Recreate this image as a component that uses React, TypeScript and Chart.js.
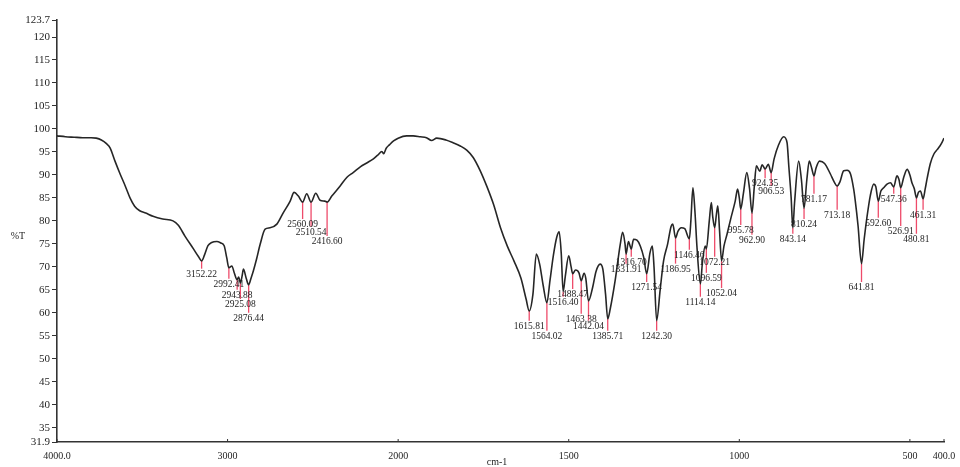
import React, { useEffect, useRef } from "react";
import { Chart, registerables, LinearScale } from "chart.js";

// ---- data ----
const wavenumbers = [
  4000, 3950, 3900, 3850, 3800, 3770, 3740, 3710, 3689, 3660, 3630, 3600, 3572, 3545, 3515, 3480, 3437, 3380, 3320, 3290,
  3250, 3200, 3170, 3152.22, 3135, 3115, 3093, 3063, 3040, 3020, 3005, 2992.41, 2975, 2960, 2943.88, 2935, 2925.08, 2915, 2907, 2890,
  2876.44, 2862, 2849, 2830, 2809, 2780, 2751, 2711, 2673, 2633, 2610, 2585, 2560.09, 2536, 2510.54, 2483, 2458, 2430, 2416.6, 2389,
  2340, 2300, 2264, 2220, 2184, 2145, 2120, 2095, 2085, 2070, 2050, 2027, 2000, 1975, 1956, 1935, 1917, 1902, 1887, 1860,
  1839, 1818, 1799, 1780, 1760, 1740, 1720, 1700, 1680, 1660, 1640, 1625, 1615.81, 1605, 1595, 1585, 1575, 1564.02, 1555, 1545,
  1535, 1528, 1522, 1516.4, 1510, 1500, 1493, 1488.47, 1480, 1470, 1463.38, 1455, 1450, 1442.04, 1430, 1420, 1408, 1400, 1392, 1385.71,
  1378, 1364, 1349, 1342, 1335, 1331.91, 1325, 1316.7, 1310, 1300, 1290, 1280, 1271.54, 1262, 1255, 1250, 1242.3, 1232, 1222, 1210,
  1200, 1195, 1186.95, 1180, 1170, 1160, 1146.46, 1142, 1136, 1130, 1124, 1114.14, 1108, 1100, 1096.59, 1088, 1082, 1078, 1072.21, 1067,
  1063, 1058, 1052.04, 1045, 1036, 1025, 1012, 1005, 1000, 995.78, 988, 978, 970, 962.9, 956, 950, 940, 933, 924.35, 915,
  906.53, 898, 885, 870, 860, 855, 848, 843.14, 838, 826, 818, 810.24, 802, 795, 788, 781.17, 775, 765, 750, 733,
  722, 713.18, 705, 694, 684, 674, 665, 660, 652, 641.81, 634, 626, 616, 606, 600, 592.6, 585, 577, 567, 557,
  547.36, 538, 532, 526.91, 518, 508, 500, 494, 487, 480.81, 475, 469, 461.31, 455, 449, 440, 430, 420, 412, 405,
  400,
];
const transmittance = [
  98.5, 98.3, 98.2, 98.1, 98.1, 98.0, 97.6, 96.8, 95.9, 93.0, 90.2, 87.6, 85.0, 83.2, 82.2, 81.7, 81.0, 80.4, 80.0, 79.1,
  76.7, 73.9, 72.2, 71.3, 72.6, 74.6, 75.3, 75.5, 75.2, 74.6, 72.0, 69.8, 70.2, 68.6, 67.2, 67.8, 66.5, 68.0, 69.5, 67.4,
  66.1, 67.6, 69.1, 71.7, 74.9, 78.2, 78.5, 79.3, 81.8, 84.3, 86.2, 85.4, 84.1, 85.9, 84.1, 86.0, 84.5, 84.3, 84.1, 85.4,
  87.6, 89.5, 90.5, 91.8, 92.6, 93.5, 94.3, 95.1, 94.6, 95.8, 96.6, 97.4, 98.0, 98.5, 98.5, 98.3, 98.1, 97.5, 98.0, 97.6,
  97.0, 96.3, 95.4, 93.8, 91.0, 87.5, 83.5, 78.5, 74.5, 71.2, 67.5, 63.0, 60.4, 64.0, 72.8, 70.5, 66.0, 62.2, 67.0, 72.5,
  76.5, 77.6, 73.0, 64.6, 68.0, 72.4, 70.0, 68.5, 69.3, 68.7, 67.0, 68.6, 67.5, 62.6, 65.5, 69.0, 70.6, 69.5, 64.0, 58.7,
  61.0, 67.0, 74.9, 77.5, 75.0, 72.8, 75.5, 73.9, 76.0, 75.8, 74.5, 72.0, 68.5, 73.0, 74.5, 70.0, 58.3, 65.0, 71.3, 75.0,
  78.8, 79.3, 76.3, 77.7, 78.5, 78.3, 76.1, 80.0, 87.2, 82.0, 74.2, 66.3, 71.0, 74.5, 73.9, 80.0, 84.0, 81.0, 78.5, 81.5,
  83.3, 78.0, 71.3, 74.5, 77.1, 80.5, 84.3, 86.9, 85.0, 82.6, 86.0, 90.5, 87.0, 81.7, 87.5, 92.0, 90.8, 92.2, 91.3, 92.3,
  90.5, 93.5, 96.5, 98.3, 97.0, 92.0, 85.0, 78.5, 84.0, 93.0, 89.0, 82.8, 89.0, 93.0, 91.5, 89.8, 91.5, 93.0, 92.5, 90.2,
  88.5, 87.6, 88.5, 90.9, 91.0, 90.2, 87.0, 84.3, 79.0, 70.7, 76.0, 80.7, 85.5, 88.0, 87.5, 84.3, 86.5, 87.2, 88.0, 88.3,
  87.4, 89.8, 89.0, 87.2, 89.5, 91.2, 90.0, 88.3, 87.0, 85.0, 86.2, 86.5, 84.8, 87.0, 89.4, 92.5, 94.5, 95.5, 96.3, 97.2,
  98.0,
];

// peak markers: wavenumber and where the red marker line ends (in %T)
const peakWavenumbers = [
  3152.22, 2992.41, 2943.88, 2925.08, 2876.44, 2560.09, 2510.54, 2416.6, 1615.81, 1564.02,
  1516.4, 1488.47, 1463.38, 1442.04, 1385.71, 1331.91, 1316.7, 1271.54, 1242.3, 1186.95,
  1146.46, 1114.14, 1096.59, 1072.21, 1052.04, 995.78, 962.9, 924.35, 906.53, 843.14,
  810.24, 781.17, 713.18, 641.81, 592.6, 547.36, 526.91, 480.81, 461.31,
];
const peakLineEnds = [
  69.6, 67.4, 65.0, 63.0, 60.0, 80.4, 78.7, 76.7, 58.3, 56.1,
  63.5, 65.2, 59.8, 58.3, 56.1, 70.7, 72.2, 66.7, 56.1, 70.7,
  73.7, 63.5, 68.7, 72.2, 65.4, 79.1, 77.0, 89.3, 87.6, 77.2,
  80.4, 85.9, 82.4, 66.7, 80.7, 85.9, 78.9, 77.2, 82.4,
];

const xTickValues = [4000, 3000, 2000, 1500, 1000, 500, 400];
const xTickLabels = ["4000.0", "3000", "2000", "1500", "1000", "500", "400.0"];
const yTickValues = [31.9, 35, 40, 45, 50, 55, 60, 65, 70, 75, 80, 85, 90, 95, 100, 105, 110, 115, 120, 123.7];

const SERIF = "'Liberation Serif', 'DejaVu Serif', serif";

// x axis: 4000-2000 at one scale, 2000-400 expanded 2x (FTIR style)
class FtirScale extends LinearScale {
  static id = "ftir";
  getPixelForValue(value: number) {
    if (value === null || value === undefined || isNaN(value)) return NaN;
    const t = value >= 2000 ? 4000 - value : 2000 + 2 * (2000 - value);
    return this.getPixelForDecimal(t / 5200);
  }
  getValueForPixel(pixel: number) {
    const t = this.getDecimalForPixel(pixel) * 5200;
    return t <= 2000 ? 4000 - t : 2000 - (t - 2000) / 2;
  }
}

Chart.register(...registerables, FtirScale as any);

const peaksPlugin = {
  id: "peaks",
  beforeDatasetsDraw(chart: any) {
    const { ctx, scales } = chart;
    const xs = scales.x, ys = scales.y;
    ctx.save();
    ctx.strokeStyle = "#ee4b6a";
    ctx.lineWidth = 1.3;
    peakWavenumbers.forEach((w, i) => {
      const idx = wavenumbers.indexOf(w);
      const tip = transmittance[idx];
      const x = xs.getPixelForValue(w);
      ctx.beginPath();
      ctx.moveTo(x, ys.getPixelForValue(tip));
      ctx.lineTo(x, ys.getPixelForValue(peakLineEnds[i]));
      ctx.stroke();
    });
    ctx.restore();
  },
  afterDatasetsDraw(chart: any) {
    const { ctx, scales } = chart;
    const xs = scales.x, ys = scales.y;
    ctx.save();
    ctx.fillStyle = "#1e1e1e";
    ctx.font = `9.5px ${SERIF}`;
    ctx.textAlign = "center";
    ctx.textBaseline = "top";
    peakWavenumbers.forEach((w, i) => {
      const x = xs.getPixelForValue(w);
      const y = ys.getPixelForValue(peakLineEnds[i]);
      ctx.fillText(w.toFixed(2), x, y + 1);
    });
    // inward x tick marks
    ctx.strokeStyle = "#333";
    ctx.lineWidth = 1;
    xTickValues.forEach((v) => {
      const x = xs.getPixelForValue(v);
      ctx.beginPath();
      ctx.moveTo(x, ys.bottom);
      ctx.lineTo(x, ys.bottom - 3);
      ctx.stroke();
    });
    // axis titles
    ctx.font = `10px ${SERIF}`;
    ctx.textBaseline = "middle";
    ctx.fillText("%T", 18, 236);
    ctx.fillText("cm-1", 497, 462);
    ctx.restore();
  },
};

export default function App() {
  const ref = useRef<HTMLCanvasElement>(null);
  useEffect(() => {
    if (!ref.current) return;
    const chart = new Chart(ref.current, {
      type: "line",
      data: {
        datasets: [
          {
            data: wavenumbers.map((w, i) => ({ x: w, y: transmittance[i] })),
            borderColor: "#262626",
            borderWidth: 1.6,
            pointRadius: 0,
            cubicInterpolationMode: "monotone",
            fill: false,
          },
        ],
      },
      options: {
        animation: false,
        responsive: false,
        devicePixelRatio: 1,
        layout: { padding: { left: 0, right: 16, top: 20, bottom: 0 } },
        plugins: { legend: { display: false }, tooltip: { enabled: false } },
        scales: {
          x: {
            type: "ftir" as any,
            min: 400,
            max: 4000,
            afterBuildTicks: (s: any) => {
              s.ticks = xTickValues.map((v) => ({ value: v }));
            },
            afterFit: (s: any) => {
              s.height = 25;
              s.paddingLeft = 0;
              s.paddingRight = 0;
            },
            ticks: {
              autoSkip: false,
              maxRotation: 0,
              padding: 0,
              color: "#1e1e1e",
              font: { family: SERIF, size: 10 },
              callback: (v: any) => xTickLabels[xTickValues.indexOf(Number(v))] ?? "",
            },
            grid: { display: false },
            border: { display: true, color: "#333", width: 1.6 },
          },
          y: {
            min: 31.9,
            max: 123.7,
            afterBuildTicks: (s: any) => {
              s.ticks = yTickValues.map((v) => ({ value: v }));
            },
            afterFit: (s: any) => {
              s.width = 57;
              s.paddingTop = 0;
              s.paddingBottom = 0;
            },
            ticks: {
              padding: 2,
              color: "#1e1e1e",
              font: { family: SERIF, size: 11 },
              callback: (v: any) => String(v),
            },
            grid: { drawOnChartArea: false, drawTicks: true, tickLength: 5, color: "#333" },
            border: { display: true, color: "#333", width: 1.6 },
          },
        },
      },
      plugins: [peaksPlugin],
    } as any);
    return () => chart.destroy();
  }, []);
  return (
    <div style={{ position: "fixed", left: 0, top: 0, width: 960, height: 467, background: "#fff" }}>
      <canvas ref={ref} width={960} height={467} style={{ display: "block" }} />
    </div>
  );
}
